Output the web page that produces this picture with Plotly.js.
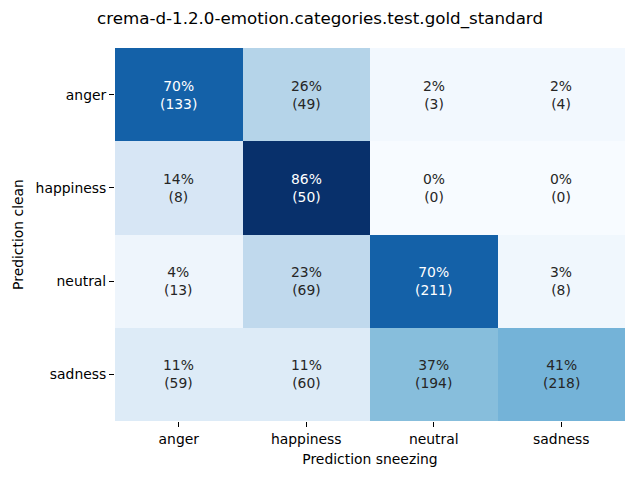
<!DOCTYPE html>
<html><head><meta charset="utf-8">
<script src="https://cdn.plot.ly/plotly-3.0.1.min.js"></script>
<style>body{margin:0;}#chart{width:640px;height:480px;}</style>
</head><body><div id="chart"></div>
<script>
const rowLabels = ["anger", "happiness", "neutral", "sadness"];
const colLabels = ["anger", "happiness", "neutral", "sadness"];
const percents = [
  [70, 26, 2, 2],
  [14, 86, 0, 0],
  [4, 23, 70, 3],
  [11, 11, 37, 41]
];
const counts = [
  [133, 49, 3, 4],
  [8, 50, 0, 0],
  [13, 69, 211, 8],
  [59, 60, 194, 218]
];
const titleText = "crema-d-1.2.0-emotion.categories.test.gold_standard";
const xTitle = "Prediction sneezing";
const yTitle = "Prediction clean";

const blues = [
  [0, "#f7fbff"], [0.125, "#deebf7"], [0.25, "#c6dbef"], [0.375, "#9ecae1"],
  [0.5, "#6baed6"], [0.625, "#4292c6"], [0.75, "#2171b5"], [0.875, "#08519c"], [1, "#08306b"]
];

const fontFam = "DejaVu Sans, sans-serif";
const annotations = [];
for (let i = 0; i < rowLabels.length; i++) {
  for (let j = 0; j < colLabels.length; j++) {
    const p = percents[i][j];
    annotations.push({
      x: colLabels[j], y: rowLabels[i], xref: "x", yref: "y",
      text: p + "%<br>(" + counts[i][j] + ")",
      showarrow: false,
      font: {family: fontFam, size: 13.9, color: p >= 60 ? "#ffffff" : "#262626"}
    });
  }
}
let zmax = 0;
percents.forEach(r => r.forEach(v => { if (v > zmax) zmax = v; }));

const data = [{
  type: "heatmap",
  x: colLabels, y: rowLabels, z: percents,
  colorscale: blues, zmin: 0, zmax: zmax,
  showscale: false, hoverinfo: "skip"
}];
const layout = {
  width: 640, height: 480,
  margin: {l: 115, r: 15, t: 48, b: 59},
  paper_bgcolor: "#ffffff", plot_bgcolor: "#ffffff",
  font: {family: fontFam, color: "#000000"},
  title: {text: titleText, x: 0.5, xanchor: "center", y: 1 - 18/480, yanchor: "middle",
          font: {family: fontFam, size: 16.7, color: "#000000"}},
  xaxis: {type: "category", showgrid: false, zeroline: false, showline: false,
          ticks: "outside", ticklen: 5, tickcolor: "#000", tickwidth: 1,
          tickfont: {family: fontFam, size: 13.9, color: "#000"},
          title: {text: xTitle, standoff: 8, font: {family: fontFam, size: 13.9, color: "#000"}}},
  yaxis: {type: "category", autorange: "reversed", showgrid: false, zeroline: false, showline: false,
          ticks: "outside", ticklen: 5, tickcolor: "#000", tickwidth: 1,
          tickfont: {family: fontFam, size: 13.9, color: "#000"},
          title: {text: yTitle, standoff: 8, font: {family: fontFam, size: 13.9, color: "#000"}}},
  annotations: annotations
};
Plotly.newPlot("chart", data, layout, {displayModeBar: false, staticPlot: true});
</script>
</body></html>
